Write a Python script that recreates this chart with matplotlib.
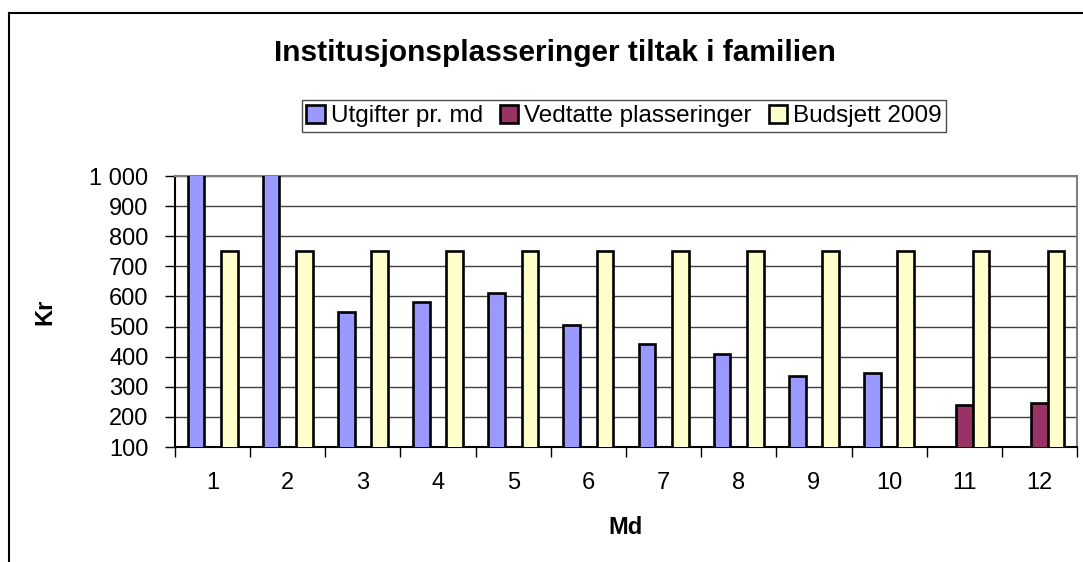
import matplotlib
matplotlib.use("Agg")
import matplotlib.pyplot as plt
import numpy as np
from matplotlib.lines import Line2D

months = ["1", "2", "3", "4", "5", "6", "7", "8", "9", "10", "11", "12"]
utgifter = [1250, 1300, 550, 580, 611, 505, 442, 408, 335, 346, np.nan, np.nan]
vedtatte = [np.nan] * 10 + [239, 247]
budsjett = [750] * 12
y_ticks = [100, 200, 300, 400, 500, 600, 700, 800, 900, 1000]
y_labels = ["100", "200", "300", "400", "500", "600", "700", "800", "900", "1 000"]

plt.rcParams['font.family'] = ['Liberation Sans', 'DejaVu Sans']

fig = plt.figure(figsize=(10.83, 5.62), dpi=100)
W, H = 1083, 562
ax = fig.add_axes([175 / W, 1 - 447 / H, 902 / W, 271 / H])

x = np.arange(len(months))
bw = 0.222
cols = ["#9999FF", "#993366", "#FFFFCC"]
names = ["Utgifter pr. md", "Vedtatte plasseringer", "Budsjett 2009"]
for i, (vals, c, n) in enumerate(zip([utgifter, vedtatte, budsjett], cols, names)):
    ax.bar(x + (i - 1) * bw, vals, width=bw, color=c, edgecolor="black",
           linewidth=1.9, label=n, zorder=3)

fs = 17
ax.set_xlim(-0.5, len(months) - 0.5)
ax.set_ylim(100, 1000)
ax.set_yticks(y_ticks)
ax.set_yticklabels(y_labels, fontsize=fs)
ax.set_xticks(np.arange(len(months) + 1) - 0.5)
ax.set_xticklabels([])
ax.set_xticks(x, minor=True)
ax.set_xticklabels(months, minor=True, fontsize=fs)
ax.tick_params(axis="x", which="major", length=7, width=1, direction="out")
ax.tick_params(axis="x", which="minor", length=0, pad=18)
ax.tick_params(axis="y", length=7, width=1, direction="out", pad=12)

ax.grid(axis="y", color="#404040", linewidth=1, zorder=0)
ax.set_axisbelow(True)
ax.spines["left"].set_color("black")
ax.spines["bottom"].set_color("black")
ax.spines["top"].set_color("#808080")
ax.spines["right"].set_color("#808080")
for s in ax.spines.values():
    s.set_linewidth(1.5)

ax.set_ylabel("Kr", fontsize=fs, fontweight="bold", va="center")
ax.yaxis.set_label_coords((45 - 175) / 902, 0.5)
ax.set_xlabel("Md", fontsize=fs, fontweight="bold", va="center")
ax.xaxis.set_label_coords((626 - 175) / 902, (447 - 527) / 271)

fig.text(555 / W, 1 - 53 / H, "Institusjonsplasseringer tiltak i familien",
         ha="center", va="center", fontsize=21.5, fontweight="bold")

leg = fig.legend(loc="center", bbox_to_anchor=(624 / W, 1 - 116 / H), ncol=3,
                 fontsize=17.5, frameon=True, fancybox=False, edgecolor="#202020",
                 handlelength=0.75, handleheight=0.75, handletextpad=0.25,
                 columnspacing=0.7, borderpad=0.2, borderaxespad=0)
leg.get_frame().set_linewidth(1)

fig.add_artist(Line2D([8.5 / W, 8.5 / W], [0, 1 - 13 / H], transform=fig.transFigure,
                      color="black", linewidth=1.5))
fig.add_artist(Line2D([8.5 / W, 1], [1 - 13 / H, 1 - 13 / H], transform=fig.transFigure,
                      color="black", linewidth=1.5))

fig.savefig("out.png", dpi=100)
